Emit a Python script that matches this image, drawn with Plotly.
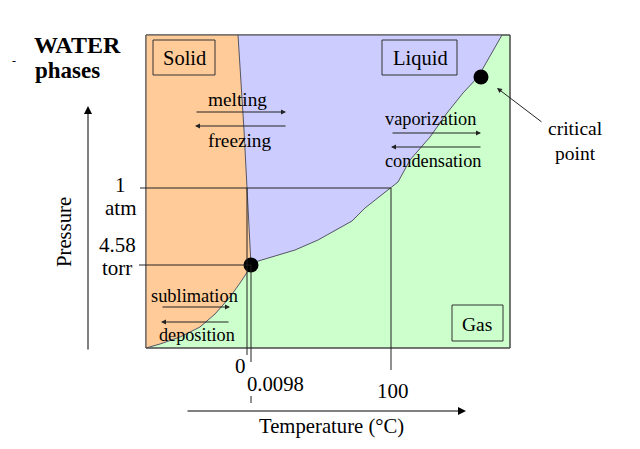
import plotly.graph_objects as go

# ---- data (diagram coordinates: x to the right, y downward) ----
box_x = [146, 510]
box_y = [35, 348]

melt_x = [238, 241, 244, 247, 249, 251]
melt_y = [35, 80, 130, 188, 230, 265]

sub_x = [146, 160, 180, 200, 215, 230, 240, 246, 251]
sub_y = [348, 344, 337, 327, 314, 297, 283, 274, 265]

vap_x = [251, 255, 265, 295, 318, 342, 352, 365, 378, 390, 398, 410, 430, 447, 463, 478, 492, 502]
vap_y = [265, 262, 259, 250, 240, 227, 221, 208, 198, 188, 182, 160, 137, 113, 93, 77, 53, 35]

triple_point = (251, 265)
critical_point = (481, 77)

SERIF = "Liberation Serif"

fig = go.Figure()

# gas region (whole box)
fig.add_trace(go.Scatter(
    x=[box_x[0], box_x[1], box_x[1], box_x[0], box_x[0]],
    y=[box_y[0], box_y[0], box_y[1], box_y[1], box_y[0]],
    fill="toself", fillcolor="#CCFFCC", mode="lines",
    line=dict(color="#555555", width=1), hoverinfo="skip", showlegend=False))

# liquid region: top edge from melt line to vap line, down vap curve, up melt line
liq_x = [melt_x[0], vap_x[-1]] + list(reversed(vap_x)) + list(reversed(melt_x))
liq_y = [box_y[0], box_y[0]] + list(reversed(vap_y)) + list(reversed(melt_y))
fig.add_trace(go.Scatter(x=liq_x, y=liq_y, fill="toself", fillcolor="#CCCCFF",
                         mode="lines", line=dict(width=0), hoverinfo="skip", showlegend=False))

# solid region
sol_x = [box_x[0], melt_x[0]] + melt_x + list(reversed(sub_x))
sol_y = [box_y[0], box_y[0]] + melt_y + list(reversed(sub_y))
fig.add_trace(go.Scatter(x=sol_x, y=sol_y, fill="toself", fillcolor="#FFCC99",
                         mode="lines", line=dict(width=0), hoverinfo="skip", showlegend=False))

# boundary curves
for cx, cy in [(melt_x, melt_y), (sub_x, sub_y), (vap_x, vap_y)]:
    fig.add_trace(go.Scatter(x=cx, y=cy, mode="lines", line=dict(color="#555566", width=1),
                             hoverinfo="skip", showlegend=False))

# box outline on top
fig.add_shape(type="rect", x0=box_x[0], x1=box_x[1], y0=box_y[0], y1=box_y[1],
              line=dict(color="#444444", width=1))

# reference lines
ref_lines = [
    (140, 188, 391, 188),   # 1 atm
    (139, 265, 251, 265),   # 4.58 torr
    (247, 188, 247, 355),   # 0 °C
    (251, 265, 251, 362),   # 0.0098 °C
    (251, 396, 251, 403),
    (391, 188, 391, 370),   # 100 °C
]
for x0, y0, x1, y1 in ref_lines:
    fig.add_shape(type="line", x0=x0, y0=y0, x1=x1, y1=y1, line=dict(color="#222222", width=1))

# points
fig.add_trace(go.Scatter(x=[triple_point[0], critical_point[0]], y=[triple_point[1], critical_point[1]],
                         mode="markers", marker=dict(color="black", size=15),
                         hoverinfo="skip", showlegend=False))

# labelled boxes
for (x0, y0, x1, y1) in [(153, 40, 215, 75), (382, 40, 457, 75), (452, 305, 503, 341)]:
    fig.add_shape(type="rect", x0=x0, y0=y0, x1=x1, y1=y1, line=dict(color="#333333", width=1))

texts = [
    ("Solid", 184, 58, 20.5), ("Liquid", 420, 58, 20.5), ("Gas", 477, 324, 19.5),
    ("melting", 237, 99, 19.3), ("freezing", 240, 140, 19.3),
    ("vaporization", 430, 119, 18.3), ("condensation", 433, 161, 18.3),
    ("sublimation", 194, 296, 18.4), ("deposition", 197, 335, 18.2),
    ("1", 120, 185, 21), ("atm", 121, 208, 21), ("4.58", 117, 245, 21), ("torr", 117, 268, 21),
    ("0", 240, 366, 21), ("0.0098", 275, 384, 20.7), ("100", 393, 391, 21),
    ("Temperature (°C)", 331, 426, 20.7),
    ("critical", 575, 128, 19.5), ("point", 575, 153, 19.5),
    ("-", 14, 61, 12),
]
for t, x, y, s in texts:
    fig.add_annotation(x=x, y=y, text=t, showarrow=False, xanchor="center", yanchor="middle",
                       font=dict(family=SERIF, size=s, color="black"))

fig.add_annotation(x=64, y=232, text="Pressure", showarrow=False, textangle=-90,
                   font=dict(family=SERIF, size=20.7, color="black"))
fig.add_annotation(x=32, y=45, text="<b>WATER</b>", showarrow=False, xanchor="left",
                   font=dict(family=SERIF, size=24, color="black"))
fig.add_annotation(x=33, y=70, text="<b>phases</b>", showarrow=False, xanchor="left",
                   font=dict(family=SERIF, size=23, color="black"))

# arrows (tip x,y ; tail ax,ay)
arrows = [
    (286, 112, 195, 112), (195, 126, 287, 126),
    (481, 133, 391, 133), (391, 147, 482, 147),
    (230, 307, 161, 307), (161, 322, 230, 322),
    (497, 88, 543, 123),
]
for x, y, ax, ay in arrows:
    fig.add_annotation(x=x, y=y, ax=ax, ay=ay, axref="x", ayref="y", text="", showarrow=True,
                       arrowhead=2, arrowsize=1, arrowwidth=1, arrowcolor="#222222")

# axis arrows
fig.add_annotation(x=88, y=106, ax=88, ay=351, axref="x", ayref="y", text="", showarrow=True,
                   arrowhead=2, arrowsize=1.6, arrowwidth=1, arrowcolor="black")
fig.add_annotation(x=466, y=411, ax=186, ay=411, axref="x", ayref="y", text="", showarrow=True,
                   arrowhead=2, arrowsize=1.6, arrowwidth=1, arrowcolor="black")

# the page has an 8px body margin; shift the ranges so diagram coords match page pixels
fig.update_xaxes(range=[8, 648], visible=False, fixedrange=True)
fig.update_yaxes(range=[457, 8], visible=False, fixedrange=True)
fig.update_layout(width=640, height=449, margin=dict(l=0, r=0, t=0, b=0),
                  paper_bgcolor="white", plot_bgcolor="white", showlegend=False)

fig.write_html("out.html")
